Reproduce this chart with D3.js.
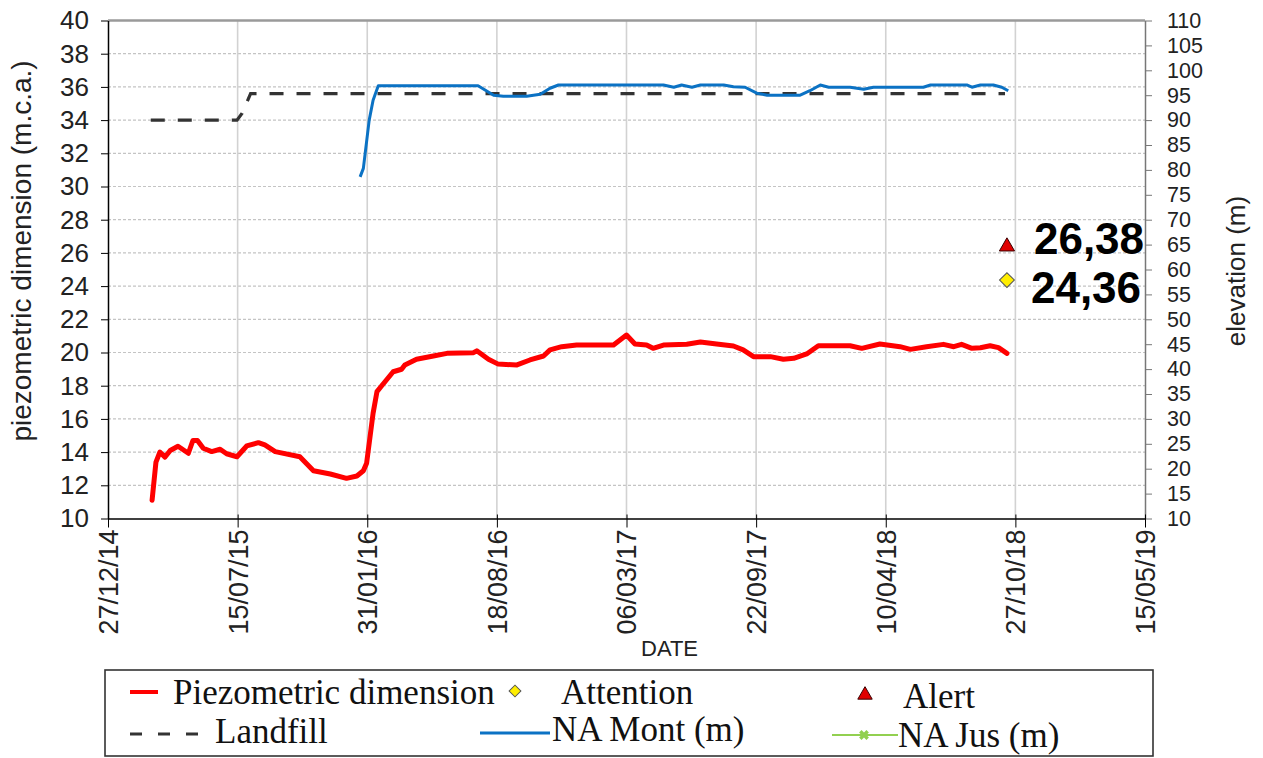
<!DOCTYPE html>
<html><head><meta charset="utf-8">
<script src="https://cdn.jsdelivr.net/npm/d3@7"></script>
<style>body{margin:0;background:#fff}</style>
</head><body>
<svg id="c" width="1263" height="758"></svg>
<script>
// ---------- data ----------
const xTickLabels = ["27/12/14","15/07/15","31/01/16","18/08/16","06/03/17","22/09/17","10/04/18","27/10/18","15/05/19"];
const yLeftTicks = [10,12,14,16,18,20,22,24,26,28,30,32,34,36,38,40];
const yRightTicks = [10,15,20,25,30,35,40,45,50,55,60,65,70,75,80,85,90,95,100,105,110];

const piezoDates = ["2015-03-05","2015-03-11","2015-03-17","2015-03-25","2015-04-02","2015-04-14","2015-04-30","2015-05-07","2015-05-14","2015-05-23","2015-06-05","2015-06-18","2015-06-28","2015-07-14","2015-07-29","2015-08-16","2015-08-26","2015-09-11","2015-10-19","2015-11-09","2015-12-05","2015-12-30","2016-01-15","2016-01-25","2016-01-30","2016-02-09","2016-02-15","2016-02-22","2016-03-11","2016-03-24","2016-03-29","2016-04-16","2016-05-12","2016-06-02","2016-07-13","2016-07-18","2016-08-05","2016-08-20","2016-09-18","2016-10-08","2016-10-29","2016-11-08","2016-11-26","2016-12-19","2017-01-19","2017-02-14","2017-03-06","2017-03-19","2017-04-06","2017-04-16","2017-05-02","2017-06-07","2017-06-28","2017-07-23","2017-08-18","2017-09-02","2017-09-18","2017-10-14","2017-11-03","2017-11-19","2017-12-09","2017-12-27","2018-02-14","2018-03-04","2018-04-01","2018-05-02","2018-05-18","2018-06-12","2018-07-08","2018-07-24","2018-08-05","2018-08-21","2018-09-03","2018-09-18","2018-10-01","2018-10-14"];
const piezoValues = [11.1,13.4,14.0,13.7,14.1,14.35,13.93,14.7,14.7,14.23,14.03,14.17,13.9,13.72,14.37,14.57,14.43,14.03,13.72,12.88,12.68,12.42,12.56,12.88,13.33,16.34,17.64,17.98,18.84,18.99,19.25,19.59,19.79,19.95,19.99,20.1,19.59,19.3,19.25,19.55,19.79,20.16,20.35,20.45,20.45,20.45,21.05,20.51,20.45,20.25,20.45,20.5,20.63,20.51,20.39,20.16,19.75,19.75,19.59,19.65,19.91,20.41,20.41,20.25,20.51,20.35,20.19,20.35,20.49,20.35,20.49,20.25,20.29,20.41,20.29,19.95];

const landfillDates = ["2015-03-03","2015-07-14","2015-07-22","2015-08-04","2018-10-11"];
const landfillValues = [90,90,91.4,95.3,95.3];

const montDates = ["2016-01-20","2016-01-25","2016-02-03","2016-02-09","2016-02-17","2016-07-20","2016-08-13","2016-08-28","2016-10-03","2016-10-24","2016-11-08","2016-11-21","2017-05-02","2017-05-18","2017-05-30","2017-06-15","2017-06-28","2017-08-03","2017-08-18","2017-09-05","2017-09-23","2017-10-09","2017-11-29","2017-12-14","2017-12-30","2018-01-12","2018-02-14","2018-03-07","2018-03-22","2018-06-07","2018-06-18","2018-08-13","2018-08-21","2018-09-03","2018-09-23","2018-10-06","2018-10-16"];
const montValues = [78.6,80.3,90.0,94.0,96.9,96.9,95.0,94.8,94.8,95.2,96.4,97.05,97.05,96.6,97.05,96.6,97.05,97.05,96.7,96.6,95.4,95.0,95.0,95.9,97.05,96.6,96.6,96.2,96.6,96.6,97.05,97.05,96.6,97.05,97.05,96.6,95.9];

const jusDates = [];
const jusValues = [];

const thresholdDate = "2018-10-14";
const alertValue = 26.38;
const attentionValue = 24.36;
const alertLabel = "26,38";
const attentionLabel = "24,36";

const legendItems = ["Piezometric dimension","Attention","Alert","Landfill","NA Mont (m)","NA Jus (m)"];

// ---------- chart ----------
const svg = d3.select("#c");
const parse = d3.utcParse("%Y-%m-%d");
const parseTick = d3.utcParse("%d/%m/%y");
const X0 = 108, X1 = 1145, YB = 518.5, YT = 20.5;
const xStart = parseTick(xTickLabels[0]), xEnd = parseTick(xTickLabels[xTickLabels.length-1]);
const x = d3.scaleUtc().domain([xStart, xEnd]).range([X0, X1]);
const yL = d3.scaleLinear().domain([10,40]).range([YB, YT]);
const yR = d3.scaleLinear().domain([10,110]).range([YB, YT]);

const sans = "'Liberation Sans', Arial, sans-serif";
const serif = "'Liberation Serif', 'Times New Roman', serif";

// gridlines
const g = svg.append("g");
g.selectAll(".hg").data(yLeftTicks.filter(v => v > 10 && v < 40)).join("line")
  .attr("x1", X0).attr("x2", X1).attr("y1", d => yL(d)).attr("y2", d => yL(d))
  .attr("stroke", "#c4c4c4").attr("stroke-width", 1.2).attr("stroke-dasharray", "3,2");
const xTicks = xTickLabels.map(parseTick);
g.selectAll(".vg").data(xTicks.slice(1, -1)).join("line")
  .attr("x1", d => x(d)).attr("x2", d => x(d)).attr("y1", YT).attr("y2", YB)
  .attr("stroke", "#d2d2d2").attr("stroke-width", 1.6);
// top border
g.append("line").attr("x1", X0).attr("x2", X1).attr("y1", YT).attr("y2", YT)
  .attr("stroke", "#9a9a9a").attr("stroke-width", 2.5);

// series
const mk = (ds, vs) => ds.map((d, i) => ({date: parse(d), v: vs[i]}));
const lineR = d3.line().x(d => x(d.date)).y(d => yR(d.v));
const lineL = d3.line().x(d => x(d.date)).y(d => yL(d.v));

svg.append("path").datum(mk(landfillDates, landfillValues)).attr("d", lineR)
  .attr("fill", "none").attr("stroke", "#333").attr("stroke-width", 3.2)
  .attr("stroke-dasharray", "14,13");
svg.append("path").datum(mk(montDates, montValues)).attr("d", lineR)
  .attr("fill", "none").attr("stroke", "#0b72c4").attr("stroke-width", 3)
  .attr("stroke-linejoin", "round");
svg.append("path").datum(mk(jusDates, jusValues)).attr("d", lineR)
  .attr("fill", "none").attr("stroke", "#92d050").attr("stroke-width", 2);
svg.append("path").datum(mk(piezoDates, piezoValues)).attr("d", lineL)
  .attr("fill", "none").attr("stroke", "#ff0000").attr("stroke-width", 5)
  .attr("stroke-linejoin", "round").attr("stroke-linecap", "round");

// threshold markers
const tDate = parse(thresholdDate);
const tri = d3.symbol().type(d3.symbolTriangle).size(100);
const sq = d3.symbol().type(d3.symbolSquare).size(110);
svg.append("path").attr("d", tri())
  .attr("transform", `translate(${x(tDate)},${yL(alertValue)})`)
  .attr("fill", "#e00000").attr("stroke", "#3a0000").attr("stroke-width", 1);
svg.append("path").attr("d", sq())
  .attr("transform", `translate(${x(tDate)},${yL(attentionValue)}) rotate(45)`)
  .attr("fill", "#ffee00").attr("stroke", "#555").attr("stroke-width", 1);
svg.append("text").attr("x", x(tDate) + 27).attr("y", yL(alertValue) + 7)
  .attr("font-family", sans).attr("font-weight", "bold").attr("font-size", 44).text(alertLabel);
svg.append("text").attr("x", x(tDate) + 24).attr("y", yL(attentionValue) + 23)
  .attr("font-family", sans).attr("font-weight", "bold").attr("font-size", 44).text(attentionLabel);

// left axis
const axL = svg.append("g").attr("transform", `translate(${X0},0)`);
axL.call(d3.axisLeft(yL).tickValues(d3.range(10, 40.01, 0.2)).tickSize(5).tickSizeOuter(0).tickFormat(""));
axL.call(d3.axisLeft(yL).tickValues(yLeftTicks).tickSize(7).tickSizeOuter(0).tickPadding(12).tickFormat(d3.format("d")));
axL.selectAll("line").attr("stroke", "#000");
axL.select(".domain").attr("stroke", "#000").attr("stroke-width", 1.5);
axL.selectAll("text").attr("font-family", sans).attr("font-size", 26).attr("fill", "#222");

// right axis
const axR = svg.append("g").attr("transform", `translate(${X1},0)`);
axR.call(d3.axisRight(yR).tickValues(yRightTicks).tickSize(7).tickSizeOuter(0).tickPadding(15).tickFormat(d3.format("d")));
axR.selectAll("line").attr("stroke", "#777");
axR.select(".domain").attr("stroke", "#777").attr("stroke-width", 1.5);
axR.selectAll("text").attr("font-family", sans).attr("font-size", 21.5).attr("fill", "#222");

// bottom axis
const axB = svg.append("g").attr("transform", `translate(0,${YB})`);
axB.call(d3.axisBottom(x).tickValues(d3.range(0, 1601, 40).map(d => d3.utcDay.offset(xStart, d))).tickSize(5).tickSizeOuter(0).tickFormat(""));
axB.call(d3.axisBottom(x).tickValues(xTicks).tickSize(9).tickSizeOuter(0).tickFormat(d3.utcFormat("%d/%m/%y")));
axB.selectAll("line").attr("stroke", "#000");
axB.select(".domain").attr("stroke", "#000").attr("stroke-width", 1.5);
axB.selectAll("text").attr("font-family", sans).attr("font-size", 27).attr("fill", "#222")
  .attr("transform", "rotate(-90)").attr("x", -11).attr("y", 0).attr("dy", "0.35em")
  .attr("text-anchor", "end");
axB.selectAll(".tick line").filter(function(){ return +d3.select(this).attr("y2") === 9; })
  .attr("y1", -4);

// axis titles
svg.append("text").attr("x", 641).attr("y", 656).attr("font-family", sans).attr("font-size", 22)
  .attr("fill", "#222").text("DATE");
svg.append("text").attr("transform", "translate(31,251) rotate(-90)").attr("text-anchor", "middle")
  .attr("font-family", sans).attr("font-size", 28).attr("fill", "#222").text("piezometric dimension (m.c.a.)");
svg.append("text").attr("transform", "translate(1245,271) rotate(-90)").attr("text-anchor", "middle")
  .attr("font-family", sans).attr("font-size", 26).attr("fill", "#222").text("elevation (m)");

// legend
const lg = svg.append("g");
lg.append("rect").attr("x", 105).attr("y", 670).attr("width", 1048).attr("height", 86)
  .attr("fill", "#fff").attr("stroke", "#333").attr("stroke-width", 1.6);
const lt = (tx, ty, s) => lg.append("text").attr("x", tx).attr("y", ty)
  .attr("font-family", serif).attr("font-size", 35).attr("fill", "#111").text(s);
lg.append("line").attr("x1", 130).attr("x2", 158).attr("y1", 692).attr("y2", 692)
  .attr("stroke", "#ff0000").attr("stroke-width", 4);
lt(173, 704, legendItems[0]);
lg.append("path").attr("d", d3.symbol().type(d3.symbolSquare).size(70)())
  .attr("transform", "translate(515,691) rotate(45)").attr("fill", "#ffee00").attr("stroke", "#555");
lt(561, 704, legendItems[1]);
lg.append("path").attr("d", d3.symbol().type(d3.symbolTriangle).size(90)())
  .attr("transform", "translate(865,695)").attr("fill", "#e00000").attr("stroke", "#3a0000");
lt(903, 708, legendItems[2]);
lg.append("line").attr("x1", 130).attr("x2", 198).attr("y1", 734).attr("y2", 734)
  .attr("stroke", "#333").attr("stroke-width", 3).attr("stroke-dasharray", "12,16");
lt(215, 743, legendItems[3]);
lg.append("line").attr("x1", 480).attr("x2", 550).attr("y1", 733).attr("y2", 733)
  .attr("stroke", "#0b72c4").attr("stroke-width", 3);
lt(552, 741, legendItems[4]);
lg.append("line").attr("x1", 832).attr("x2", 898).attr("y1", 735).attr("y2", 735)
  .attr("stroke", "#92d050").attr("stroke-width", 2);
lg.append("path").attr("d", d3.symbol().type(d3.symbolCross).size(60)())
  .attr("transform", "translate(864,735) rotate(45)").attr("fill", "#92d050");
lt(898, 747, legendItems[5]);
</script>
</body></html>
